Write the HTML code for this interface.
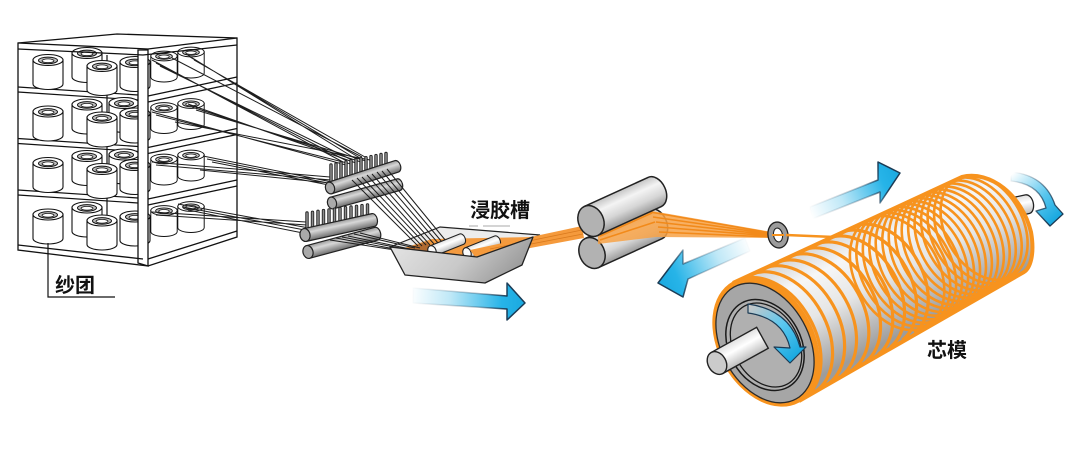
<!DOCTYPE html>
<html><head><meta charset="utf-8">
<style>
html,body{margin:0;padding:0;background:#fff;}
svg{display:block;}
</style></head><body>
<svg width="1075" height="450" viewBox="0 0 1075 450" xmlns="http://www.w3.org/2000/svg">
<defs>
 <linearGradient id="cylG" x1="0" y1="0" x2="0" y2="1">
  <stop offset="0" stop-color="#c4c4c4"/>
  <stop offset="0.3" stop-color="#f4f4f4"/>
  <stop offset="0.65" stop-color="#d6d6d6"/>
  <stop offset="1" stop-color="#9a9a9a"/>
 </linearGradient>
 <linearGradient id="combG" x1="0" y1="0" x2="0" y2="1">
  <stop offset="0" stop-color="#9a9a9a"/>
  <stop offset="0.35" stop-color="#d8d8d8"/>
  <stop offset="1" stop-color="#6e6e6e"/>
 </linearGradient>
 <linearGradient id="whiteCyl" x1="0" y1="0" x2="0" y2="1">
  <stop offset="0" stop-color="#e0e0e0"/>
  <stop offset="0.4" stop-color="#ffffff"/>
  <stop offset="1" stop-color="#bdbdbd"/>
 </linearGradient>
 <linearGradient id="trayG" x1="0" y1="0" x2="1" y2="0.3">
  <stop offset="0" stop-color="#e6e6e6"/>
  <stop offset="0.6" stop-color="#c9c9c9"/>
  <stop offset="1" stop-color="#9d9d9d"/>
 </linearGradient>
 <linearGradient id="bodyG" gradientUnits="userSpaceOnUse" x1="733" y1="283" x2="790" y2="392">
  <stop offset="0" stop-color="#d2d2d2"/>
  <stop offset="0.25" stop-color="#f6f6f6"/>
  <stop offset="0.55" stop-color="#e6e6e6"/>
  <stop offset="1" stop-color="#9c9c9c"/>
 </linearGradient>
 <linearGradient id="aL" gradientUnits="userSpaceOnUse" x1="410" y1="295" x2="525" y2="303">
  <stop offset="0" stop-color="#ffffff"/>
  <stop offset="0.35" stop-color="#bfe8f7"/>
  <stop offset="0.8" stop-color="#27b4e8"/>
  <stop offset="1" stop-color="#1aa9e0"/>
 </linearGradient>
 <linearGradient id="aLs" gradientUnits="userSpaceOnUse" x1="410" y1="295" x2="525" y2="303">
  <stop offset="0" stop-color="#1b3b55" stop-opacity="0"/>
  <stop offset="0.6" stop-color="#1b3b55" stop-opacity="0.35"/>
  <stop offset="0.85" stop-color="#1b3b55" stop-opacity="1"/>
 </linearGradient>
 <linearGradient id="aU" gradientUnits="userSpaceOnUse" x1="810" y1="213" x2="900" y2="173">
  <stop offset="0" stop-color="#ffffff"/>
  <stop offset="0.35" stop-color="#bfe8f7"/>
  <stop offset="0.8" stop-color="#27b4e8"/>
  <stop offset="1" stop-color="#1aa9e0"/>
 </linearGradient>
 <linearGradient id="aUs" gradientUnits="userSpaceOnUse" x1="810" y1="213" x2="900" y2="173">
  <stop offset="0" stop-color="#1b3b55" stop-opacity="0"/>
  <stop offset="0.6" stop-color="#1b3b55" stop-opacity="0.35"/>
  <stop offset="0.85" stop-color="#1b3b55" stop-opacity="1"/>
 </linearGradient>
 <linearGradient id="aB" gradientUnits="userSpaceOnUse" x1="750" y1="243" x2="658" y2="283">
  <stop offset="0" stop-color="#ffffff"/>
  <stop offset="0.35" stop-color="#bfe8f7"/>
  <stop offset="0.8" stop-color="#27b4e8"/>
  <stop offset="1" stop-color="#1aa9e0"/>
 </linearGradient>
 <linearGradient id="aBs" gradientUnits="userSpaceOnUse" x1="750" y1="243" x2="658" y2="283">
  <stop offset="0" stop-color="#1b3b55" stop-opacity="0"/>
  <stop offset="0.6" stop-color="#1b3b55" stop-opacity="0.35"/>
  <stop offset="0.85" stop-color="#1b3b55" stop-opacity="1"/>
 </linearGradient>
 <linearGradient id="rB" gradientUnits="userSpaceOnUse" x1="1010" y1="176" x2="1052" y2="222">
  <stop offset="0" stop-color="#ffffff"/>
  <stop offset="0.6" stop-color="#58c6ee"/>
  <stop offset="1" stop-color="#1aa9e0"/>
 </linearGradient>
 <linearGradient id="rBs" gradientUnits="userSpaceOnUse" x1="1010" y1="176" x2="1052" y2="222">
  <stop offset="0" stop-color="#1b3b55" stop-opacity="0"/>
  <stop offset="0.5" stop-color="#1b3b55" stop-opacity="0.6"/>
  <stop offset="1" stop-color="#1b3b55" stop-opacity="1"/>
 </linearGradient>
 <linearGradient id="rF" gradientUnits="userSpaceOnUse" x1="748" y1="308" x2="792" y2="360">
  <stop offset="0" stop-color="#c8c8c8"/>
  <stop offset="0.5" stop-color="#5cc8ef"/>
  <stop offset="1" stop-color="#1aa9e0"/>
 </linearGradient>
 <clipPath id="bodyClip">
  <path d="M733,283 L962,177 C990,170 1022,195 1031,232 C1035,255 1030,268 1024,272 L799,401 A47 68 -29 0 1 733,283 Z"/>
 </clipPath>
 <g id="sp">
  <path d="M-15,0 V24 A15 5.5 0 0 0 15,24 V0 Z" fill="#fff" stroke="#111" stroke-width="1.1"/>
  <ellipse cx="0" cy="0" rx="15" ry="5.5" fill="#fff" stroke="#111" stroke-width="1.1"/>
  <ellipse cx="0" cy="0.4" rx="9.5" ry="3.3" fill="#bdbdbd" stroke="#111" stroke-width="1"/>
  <ellipse cx="0" cy="0.8" rx="6" ry="1.9" fill="#fff" stroke="#111" stroke-width="0.8"/>
 </g>
</defs>

<!-- ================= CREEL ================= -->
<g fill="none" stroke="#111" stroke-width="1.2">
 <line x1="107" y1="55" x2="107" y2="250"/>
 <path d="M18,87 L138,95 M18,92 L138,100"/>
 <path d="M18,138.5 L138,146.5 M18,143.5 L138,151.5"/>
 <path d="M18,190 L138,198 M18,195 L138,203"/>
 <path d="M148,96 L237,77 M148,102 L237,83"/>
 <path d="M148,147.5 L237,128.5 M148,153.5 L237,134.5"/>
 <path d="M148,199 L237,180 M148,205 L237,186"/>
</g>

<g>
 <use href="#sp" transform="translate(87,53)"/>
 <use href="#sp" transform="translate(191,52) scale(0.88)"/>
 <use href="#sp" transform="translate(164,56) scale(0.88)"/>
 <use href="#sp" transform="translate(135,62)"/>
 <use href="#sp" transform="translate(48,60)"/>
 <use href="#sp" transform="translate(102,66)"/>

 <use href="#sp" transform="translate(87,104.5)"/>
 <use href="#sp" transform="translate(124,103)"/>
 <use href="#sp" transform="translate(191,103.5) scale(0.88)"/>
 <use href="#sp" transform="translate(164,107.5) scale(0.88)"/>
 <use href="#sp" transform="translate(135,113.5)"/>
 <use href="#sp" transform="translate(48,111.5)"/>
 <use href="#sp" transform="translate(102,117.5)"/>

 <use href="#sp" transform="translate(87,156)"/>
 <use href="#sp" transform="translate(124,154.5)"/>
 <use href="#sp" transform="translate(191,155) scale(0.88)"/>
 <use href="#sp" transform="translate(164,159) scale(0.88)"/>
 <use href="#sp" transform="translate(135,165)"/>
 <use href="#sp" transform="translate(48,163)"/>
 <use href="#sp" transform="translate(102,169)"/>

 <use href="#sp" transform="translate(87,207.5)"/>
 <use href="#sp" transform="translate(191,206.5) scale(0.88)"/>
 <use href="#sp" transform="translate(164,210.5) scale(0.88)"/>
 <use href="#sp" transform="translate(135,216.5)"/>
 <use href="#sp" transform="translate(48,214.5)"/>
 <use href="#sp" transform="translate(102,220.5)"/>
</g>

<g stroke="#111" stroke-width="1.3">
 <polygon points="138,50 148,50 148,266 138,263" fill="#fff"/>
 <path d="M18,43 L117,34 L237,38 L237,237 L148,266 L18,250 Z" fill="none"/>
 <path d="M18,43 L148,49 L237,38 M18,49 L143,55 L237,45 M18,245 L143,259 M148,259 L237,231" fill="none"/>
</g>

<path d="M48,243 V297 H115" fill="none" stroke="#111" stroke-width="1.2"/>
<text x="55" y="292" font-family="'Liberation Sans','Noto Sans CJK SC',sans-serif" font-size="20" font-weight="bold" fill="#111">纱团</text>

<g stroke="#1e1e1e" stroke-width="1" fill="none">
 <path d="M152,60 L343,162 M156,63 L347,161 M160,66 L352,160 M186,54 L356,159 M190,57 L360,158 M194,60 L365,157 M172,58 L362,157"/>
 <path d="M152,112 L346,165 M156,115 L351,164 M188,104 L356,163 M192,107 L361,162 M196,110 L366,161 M175,122 L370,160"/>
 <path d="M152,162 L330,177 M156,165 L331,180 M203,156 L332,182 M207,159 L333,184 M212,162 L334,186 M200,170 L330,183"/>
 <path d="M152,212 L306,222 M156,215 L307,225 M178,204 L309,228 M183,207 L310,231 M188,210 L308,234"/>
</g>

<!-- ================= COMBS ================= -->
<g transform="translate(332,203) rotate(-15.4)">
 <path d="M0,-6 H69 A4 6 0 0 1 69,6 H0 Z" fill="url(#combG)" stroke="#222" stroke-width="1.2"/>
 <ellipse cx="0" cy="0" rx="4.5" ry="6" fill="#aaa" stroke="#222" stroke-width="1.2"/>
</g>
<g stroke-linecap="round">
 <path stroke="#222" stroke-width="3.4" d="M331,165V187.7 M336,164V186.1 M341,162.9V184.5 M346,161.9V182.9 M351,160.8V181.3 M356,159.8V179.7 M361,158.7V178.1 M366,157.7V176.5 M371,156.6V174.9 M376,155.6V173.3 M381,154.5V171.7 M386,153.5V170.1"/>
 <path stroke="#8c8c8c" stroke-width="1.6" d="M331,165V187.7 M336,164V186.1 M341,162.9V184.5 M346,161.9V182.9 M351,160.8V181.3 M356,159.8V179.7 M361,158.7V178.1 M366,157.7V176.5 M371,156.6V174.9 M376,155.6V173.3 M381,154.5V171.7 M386,153.5V170.1"/>
</g>
<g transform="translate(330,188) rotate(-18)">
 <path d="M0,-6 H70 A4 6 0 0 1 70,6 H0 Z" fill="url(#combG)" stroke="#222" stroke-width="1.2"/>
 <ellipse cx="0" cy="0" rx="4.5" ry="6" fill="#aaa" stroke="#222" stroke-width="1.2"/>
</g>

<g transform="translate(308,252) rotate(-15)">
 <path d="M0,-6.5 H71 A4 6.5 0 0 1 71,6.5 H0 Z" fill="url(#combG)" stroke="#222" stroke-width="1.2"/>
 <ellipse cx="0" cy="0" rx="5" ry="6.5" fill="#aaa" stroke="#222" stroke-width="1.2"/>
</g>
<g stroke-linecap="round">
 <path stroke="#222" stroke-width="3.4" d="M307,213V234.6 M312.5,212.3V233.5 M318,211.3V232.1 M323.5,210.6V231 M329,209.9V229.7 M334.5,209.2V228.6 M340,208.5V227.3 M345.5,207.7V226.1 M351,207V224.9 M356.5,206.3V223.7 M362,205.6V222.5 M367.5,204.9V221.3"/>
 <path stroke="#8c8c8c" stroke-width="1.6" d="M307,213V234.6 M312.5,212.3V233.5 M318,211.3V232.1 M323.5,210.6V231 M329,209.9V229.7 M334.5,209.2V228.6 M340,208.5V227.3 M345.5,207.7V226.1 M351,207V224.9 M356.5,206.3V223.7 M362,205.6V222.5 M367.5,204.9V221.3"/>
</g>
<g transform="translate(305,235) rotate(-12.4)">
 <path d="M0,-6.5 H70 A4 6.5 0 0 1 70,6.5 H0 Z" fill="url(#combG)" stroke="#222" stroke-width="1.2"/>
 <ellipse cx="0" cy="0" rx="5" ry="6.5" fill="#aaa" stroke="#222" stroke-width="1.2"/>
</g>

<!-- ================= TRAY ================= -->
<polygon points="390,247 440,227 540,235 533,238 477,257" fill="#ececec" stroke="#222" stroke-width="1.2"/>
<polygon points="398,250 432,239 532,237 478,256" fill="#f39a3f"/>
<polygon points="404,249 426,242 436,250 412,252" fill="#b06a30"/>

<g stroke="#1e1e1e" stroke-width="1" fill="none">
 <path d="M352,180 L418,246 M357,178 L422,246 M362,177 L426,245 M367,175 L430,245 M372,174 L434,244 M377,172 L438,243 M382,171 L442,242 M387,169 L446,241"/>
 <path d="M330,240 L395,250 M336,238 L400,250 M342,237 L405,249 M348,236 L410,249 M354,234 L415,248 M360,233 L420,248"/>
</g>

<g transform="translate(432,251) rotate(-21.8)">
 <path d="M0,-5.5 H32 A3.5 5.5 0 0 1 32,5.5 H0 Z" fill="url(#whiteCyl)" stroke="#222" stroke-width="1.1"/>
 <ellipse cx="0" cy="0" rx="4" ry="5.5" fill="#fafafa" stroke="#222" stroke-width="1.1"/>
</g>
<g transform="translate(467,253) rotate(-21.8)">
 <path d="M0,-5.5 H32 A3.5 5.5 0 0 1 32,5.5 H0 Z" fill="url(#whiteCyl)" stroke="#222" stroke-width="1.1"/>
 <ellipse cx="0" cy="0" rx="4" ry="5.5" fill="#fafafa" stroke="#222" stroke-width="1.1"/>
</g>

<polygon points="470,250 582,226 584,238 476,258" fill="#f59a3c"/>
<g stroke="#d97a1e" stroke-width="0.8" fill="none">
 <path d="M490,249 L582,230 M500,250 L583,234"/>
</g>

<polygon points="390,247 477,257 533,237 522,265 485,283 405,275" fill="url(#trayG)" stroke="#222" stroke-width="1.3" stroke-linejoin="round"/>

<text x="470" y="217" font-family="'Liberation Sans','Noto Sans CJK SC',sans-serif" font-size="20" font-weight="bold" fill="#111">浸胶槽</text>
<path d="M469,226 H478 M483,226 H510" stroke="#bbb" stroke-width="1.2"/>

<polygon points="413,288 507,296 507,283 525,303 507,320 507,309 413,303" fill="url(#aL)" stroke="url(#aLs)" stroke-width="1.5" stroke-linejoin="round"/>

<!-- ================= NIP ROLLERS ================= -->
<g transform="translate(592,253) rotate(-24.5)">
 <path d="M0,-16 H70 A11 16 0 0 1 70,16 H0 Z" fill="url(#cylG)" stroke="#222" stroke-width="1.5"/>
 <ellipse cx="0" cy="0" rx="12.5" ry="16" fill="#b2b2b2" stroke="#222" stroke-width="1.5"/>
</g>
<polygon points="598,232 652,211 772,232 772,238 656,237 598,244" fill="#f7a247" opacity="0.85"/>
<g stroke="#f28a1a" stroke-width="1.6" fill="none">
 <path d="M650,212 L771,233 M653,217 L771,234 M656,222 L771,235 M658,227 L771,236 M659,232 L771,237 M600,236 L652,213 M600,240 L655,222"/>
</g>
<g transform="translate(591,221) rotate(-24.5)">
 <path d="M0,-16 H70 A11 16 0 0 1 70,16 H0 Z" fill="url(#cylG)" stroke="#222" stroke-width="1.5"/>
 <ellipse cx="0" cy="0" rx="12.5" ry="16" fill="#b2b2b2" stroke="#222" stroke-width="1.5"/>
</g>

<ellipse cx="778" cy="235" rx="10" ry="13" fill="#9c9c9c" stroke="#222" stroke-width="1.3" transform="rotate(-10 778 235)"/>
<ellipse cx="778" cy="235" rx="4.5" ry="7" fill="#fff" stroke="#222" stroke-width="1.1" transform="rotate(-10 778 235)"/>
<path d="M772,235 L784,235" stroke="#f7931e" stroke-width="2"/>
<path d="M786,235 L834,237" stroke="#f7931e" stroke-width="2.6"/>

<polygon points="810,207 878,180 878,162 900,173 880,203 880,192 812,219" fill="url(#aU)" stroke="url(#aUs)" stroke-width="1.5" stroke-linejoin="round"/>
<polygon points="745,238 683,264 683,250 658,283 683,297 688,279 750,251" fill="url(#aB)" stroke="url(#aBs)" stroke-width="1.5" stroke-linejoin="round"/>

<!-- ================= MANDREL ================= -->
<g transform="translate(1000,210) rotate(-12)">
 <path d="M0,-9.5 H28 A6 9.5 0 0 1 28,9.5 H0 Z" fill="url(#whiteCyl)" stroke="#222" stroke-width="1.3"/>
</g>
<path d="M733,283 L962,177 C990,170 1022,195 1031,232 C1035,255 1030,268 1024,272 L799,401 A47 68 -29 0 1 733,283 Z" fill="url(#bodyG)"/>
<g clip-path="url(#bodyClip)" fill="none" stroke="#f7931e">
 <g stroke-width="3.2">
  <path d="M740,279.7 A46.7 67.6 -29 0 1 805.6,397.1"/>
  <path d="M752.7,273.8 A46.3 67 -29 0 1 817.7,390"/>
  <path d="M765.4,267.8 A45.8 66.3 -29 0 1 829.8,382.8"/>
  <path d="M778.3,261.9 A45.4 65.6 -29 0 1 841.9,375.7"/>
  <path d="M791,255.9 A44.9 64.9 -29 0 1 854,368.6"/>
  <path d="M803.7,249.9 A44.4 64.3 -29 0 1 866.1,361.5"/>
  <path d="M816.5,244 A44 63.6 -29 0 1 878.3,354.4"/>
  <path d="M829.3,238 A43.5 62.9 -29 0 1 890.3,347.2"/>
  <path d="M842,232.1 A43 62.2 -29 0 1 902.4,340.1"/>
  <path d="M854.8,226.1 A42.6 61.6 -29 0 1 914.6,332.9"/>
 </g>
 <g stroke-width="2.6">
  <ellipse cx="897.1" cy="273" rx="42.1" ry="60.9" transform="rotate(-29 897.1 273)"/>
  <ellipse cx="903.3" cy="269.7" rx="41.9" ry="60.6" transform="rotate(-29 903.3 269.7)"/>
  <ellipse cx="909.5" cy="266.4" rx="41.6" ry="60.2" transform="rotate(-29 909.5 266.4)"/>
  <ellipse cx="915.7" cy="263.2" rx="41.4" ry="59.9" transform="rotate(-29 915.7 263.2)"/>
  <ellipse cx="921.9" cy="259.9" rx="41.2" ry="59.6" transform="rotate(-29 921.9 259.9)"/>
  <ellipse cx="928.2" cy="256.6" rx="40.9" ry="59.2" transform="rotate(-29 928.2 256.6)"/>
  <ellipse cx="934.4" cy="253.3" rx="40.7" ry="58.9" transform="rotate(-29 934.4 253.3)"/>
  <ellipse cx="940.6" cy="250.1" rx="40.5" ry="58.5" transform="rotate(-29 940.6 250.1)"/>
  <ellipse cx="946.8" cy="246.8" rx="40.2" ry="58.2" transform="rotate(-29 946.8 246.8)"/>
  <ellipse cx="953" cy="243.5" rx="40" ry="57.9" transform="rotate(-29 953 243.5)"/>
  <ellipse cx="959.2" cy="240.3" rx="39.8" ry="57.5" transform="rotate(-29 959.2 240.3)"/>
  <ellipse cx="965.4" cy="237" rx="39.5" ry="57.2" transform="rotate(-29 965.4 237)"/>
  <ellipse cx="971.7" cy="233.7" rx="39.3" ry="56.9" transform="rotate(-29 971.7 233.7)"/>
  <ellipse cx="977.9" cy="230.4" rx="39.1" ry="56.5" transform="rotate(-29 977.9 230.4)"/>
  <ellipse cx="984.1" cy="227.2" rx="38.8" ry="56.2" transform="rotate(-29 984.1 227.2)"/>
 </g>
</g>
<path d="M733,283 L962,177 C990,170 1022,195 1031,232 C1035,255 1030,268 1024,272 L799,401" fill="none" stroke="#f7931e" stroke-width="4" stroke-linejoin="round"/>

<ellipse cx="766" cy="342" rx="48" ry="69" transform="rotate(-29 766 342)" fill="#f7931e"/>
<ellipse cx="765" cy="343" rx="43.5" ry="64" transform="rotate(-29 765 343)" fill="#a6a6a6" stroke="#2a2a2a" stroke-width="1.3"/>
<ellipse cx="765" cy="345" rx="36" ry="48" transform="rotate(-29 765 345)" fill="#b0b0b0" stroke="#1a1a1a" stroke-width="1.5"/>
<ellipse cx="766" cy="345" rx="32.5" ry="44.5" transform="rotate(-29 766 345)" fill="none" stroke="#1a1a1a" stroke-width="1.3"/>

<path d="M748,304 Q790,310 800,347 L806,347 L790,363 L774,347 L790,348 Q783,318 748,313 Z" fill="url(#rF)" stroke="#1b3b55" stroke-width="1.2" stroke-linejoin="round"/>

<g transform="translate(717,363) rotate(-29)">
 <path d="M0,-12 H52 V12 H0 Z" fill="url(#whiteCyl)" stroke="#222" stroke-width="1.4"/>
 <ellipse cx="0" cy="0" rx="9" ry="12" fill="#cbcbcb" stroke="#222" stroke-width="1.4"/>
</g>

<path d="M1011,172 Q1045,175 1055,205 L1063,214 L1050,226 L1036,211 L1046,208 Q1040,184 1011,181 Z" fill="url(#rB)" stroke="url(#rBs)" stroke-width="1.3" stroke-linejoin="round"/>

<text x="927" y="357" font-family="'Liberation Sans','Noto Sans CJK SC',sans-serif" font-size="20" font-weight="bold" fill="#111">芯模</text>
</svg>
</body></html>
